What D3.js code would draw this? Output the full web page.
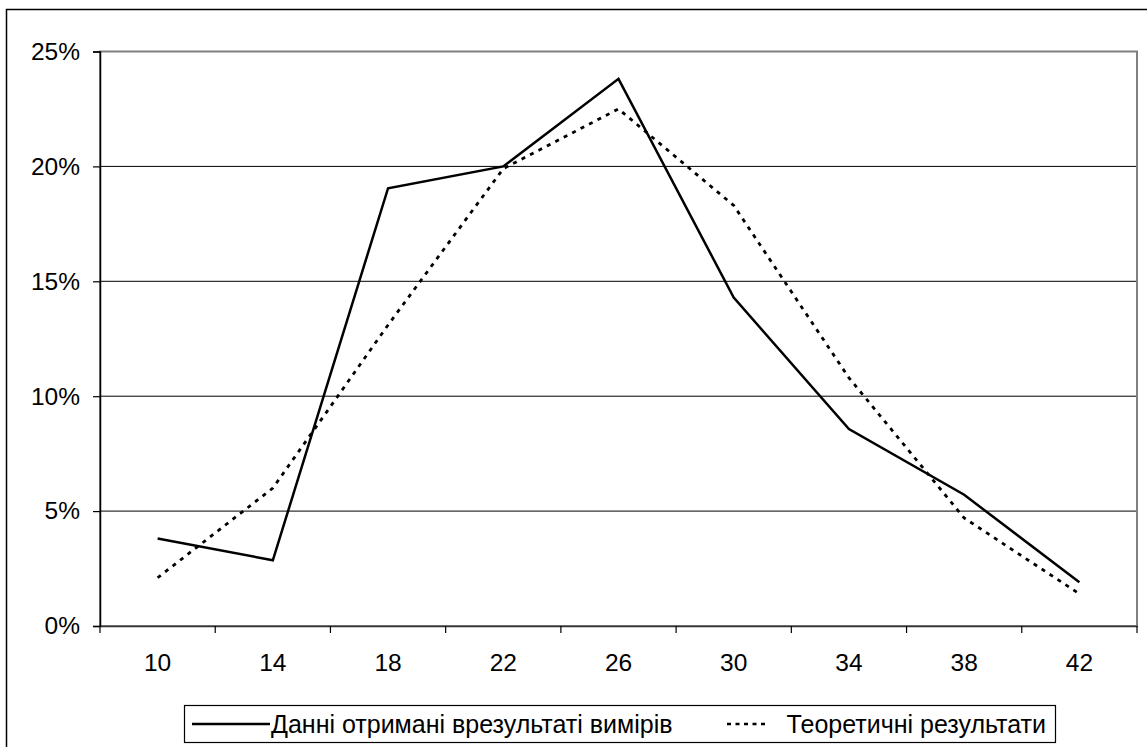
<!DOCTYPE html>
<html>
<head>
<meta charset="utf-8">
<script src="https://cdn.jsdelivr.net/npm/d3@7"></script>
<style>
  body { margin: 0; background: #fff; }
  svg { display: block; font-family: "Liberation Sans", Arial, sans-serif; }
</style>
</head>
<body>
<div id="chart"></div>
<script>
const categories = [10, 14, 18, 22, 26, 30, 34, 38, 42];
const measured = [3.81, 2.86, 19.05, 20.0, 23.81, 14.29, 8.57, 5.71, 1.9];
const theoretical = [2.1, 6.0, 13.1, 19.9, 22.5, 18.3, 10.8, 4.7, 1.4];
const yTicks = [0, 5, 10, 15, 20, 25];
const seriesNames = ["Данні отримані врезультаті вимірів", "Теоретичні результати"];

const width = 1147;
const height = 747;
const margin = { top: 51.5, right: 10, bottom: 121, left: 100 };

const svg = d3.select("#chart").append("svg")
  .attr("width", width)
  .attr("height", height);

// outer chart border
svg.append("rect")
  .attr("x", 6.5).attr("y", 9.5)
  .attr("width", width).attr("height", height)
  .attr("fill", "none").attr("stroke", "#000").attr("stroke-width", 1.5);

const x = d3.scaleBand()
  .domain(categories)
  .range([margin.left, width - margin.right]);

const y = d3.scaleLinear()
  .domain([0, 25])
  .range([height - margin.bottom, margin.top]);

// gridlines
svg.append("g")
  .selectAll("line")
  .data(yTicks.filter((d) => d > 0 && d < 25))
  .join("line")
  .attr("x1", margin.left).attr("x2", width - margin.right)
  .attr("y1", (d) => y(d)).attr("y2", (d) => y(d))
  .attr("stroke", "#000").attr("stroke-width", 1);

// plot area border
svg.append("rect")
  .attr("x", margin.left).attr("y", y(25))
  .attr("width", width - margin.right - margin.left)
  .attr("height", y(0) - y(25))
  .attr("fill", "none").attr("stroke", "#808080").attr("stroke-width", 2);

// y axis
const gY = svg.append("g")
  .attr("transform", `translate(${margin.left},0)`)
  .call(d3.axisLeft(y).tickValues(yTicks).tickFormat((d) => d + "%").tickSize(7).tickPadding(13));
gY.select(".domain").attr("stroke", "#000").attr("stroke-width", 1.5);
gY.selectAll(".tick line").attr("stroke", "#000").attr("stroke-width", 1.2);
gY.selectAll("text").attr("font-size", 24.5).attr("fill", "#000");

// x axis
const gX = svg.append("g")
  .attr("transform", `translate(0,${y(0)})`)
  .call(d3.axisBottom(x).tickSize(0).tickPadding(28));
gX.select(".domain").attr("stroke", "#333").attr("stroke-width", 1.5);
gX.selectAll("text").attr("font-size", 24.5).attr("fill", "#000");
// ticks at category boundaries
gX.selectAll(".bound")
  .data(categories.concat([null]))
  .join("line")
  .attr("class", "bound")
  .attr("x1", (d, i) => margin.left + i * x.step())
  .attr("x2", (d, i) => margin.left + i * x.step())
  .attr("y1", 0).attr("y2", 7)
  .attr("stroke", "#000").attr("stroke-width", 1.2);

const line = d3.line()
  .x((d, i) => x(categories[i]) + x.bandwidth() / 2)
  .y((d) => y(d));

svg.append("path")
  .datum(theoretical)
  .attr("d", line)
  .attr("fill", "none").attr("stroke", "#000")
  .attr("stroke-width", 2.8).attr("stroke-dasharray", "4,5.5");

svg.append("path")
  .datum(measured)
  .attr("d", line)
  .attr("fill", "none").attr("stroke", "#000")
  .attr("stroke-width", 2.5).attr("stroke-linejoin", "miter");

// legend
const legend = svg.append("g");
legend.append("rect")
  .attr("x", 184.5).attr("y", 705.5)
  .attr("width", 871).attr("height", 37)
  .attr("fill", "#fff").attr("stroke", "#000").attr("stroke-width", 1.2);
legend.append("line")
  .attr("x1", 192).attr("x2", 270).attr("y1", 724).attr("y2", 724)
  .attr("stroke", "#000").attr("stroke-width", 2.5);
legend.append("text")
  .attr("x", 271).attr("y", 724).attr("dy", "0.35em")
  .attr("font-size", 25).text(seriesNames[0]);
legend.append("line")
  .attr("x1", 727).attr("x2", 766).attr("y1", 724).attr("y2", 724)
  .attr("stroke", "#000").attr("stroke-width", 2.5).attr("stroke-dasharray", "4,4.5");
legend.append("text")
  .attr("x", 1046).attr("y", 724).attr("dy", "0.35em")
  .attr("text-anchor", "end")
  .attr("font-size", 25).text(seriesNames[1]);
</script>
</body>
</html>
